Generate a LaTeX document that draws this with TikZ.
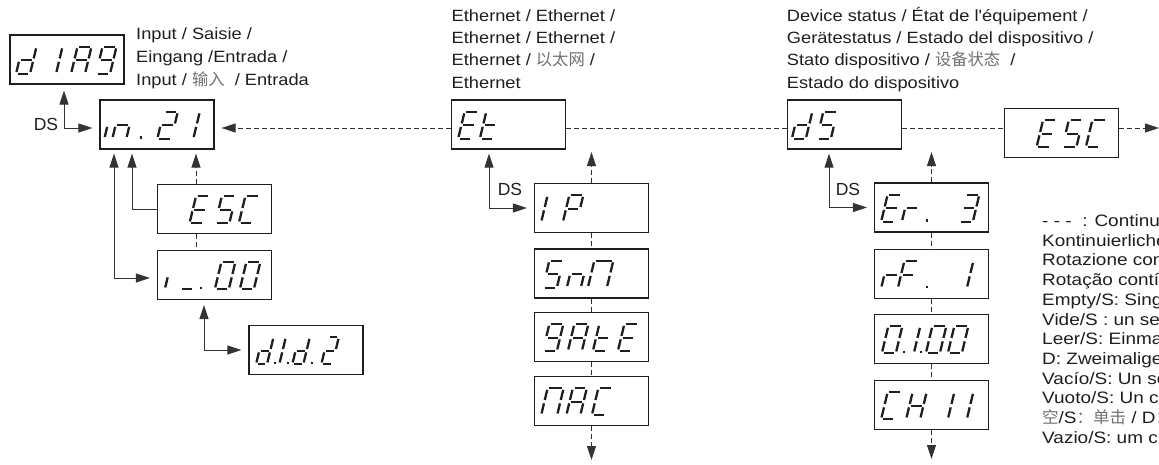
\documentclass[tikz,border=0pt]{standalone}
\usepackage{fontspec}
\setmainfont{Liberation Sans}
\newfontfamily\cjk{Noto Sans CJK SC}
\newfontfamily\tf[FakeStretch=1.12]{Liberation Sans}
\newfontfamily\lf[FakeStretch=1.15]{Liberation Sans}
\usetikzlibrary{arrows.meta,calc}
\definecolor{ink}{HTML}{1E1E1E}
\definecolor{cj}{HTML}{707070}
% seven segment geometry
\def\GH{27}\def\GW{14}\def\GG{1.7}\def\GS{0.24}
\def\sga{(\GG,-\GH) -- (\GW-\GG,-\GH)}
\def\sgb{(\GW,-\GH+\GG) -- (\GW,-\GH/2-\GG)}
\def\sgc{(\GW,-\GH/2+\GG) -- (\GW,-\GG)}
\def\sgd{(\GG,0) -- (\GW-\GG,0)}
\def\sge{(0,-\GH/2+\GG) -- (0,-\GG)}
\def\sgf{(0,-\GH+\GG) -- (0,-\GH/2-\GG)}
\def\sgg{(\GG,-\GH/2) -- (\GW-\GG,-\GH/2)}
\def\sgp{(0,-1.15) -- (2.3,-1.15)}
\def\GLd{b,c,d,e,g}\def\GLone{e,f}\def\GLi{e}\def\GLA{a,b,c,e,f,g}
\def\GLnine{a,b,c,d,f,g}\def\GLn{c,e,g}\def\GLtwo{a,b,g,e,d}
\def\GLE{a,d,e,f,g}\def\GLS{a,f,g,c,d}\def\GLC{a,d,e,f}\def\GLu{d}
\def\GLz{a,b,c,d,e,f}\def\GLt{d,e,f,g}\def\GLP{a,b,e,f,g}
\def\GLN{a,b,c,e,f}\def\GLr{e,g}\def\GLF{a,e,f,g}\def\GLthree{a,b,c,d,g}
\def\GLH{b,c,e,f,g}\def\GLp{p}
\newcommand\gl[3]{\begin{scope}[shift={($(#1.south west)+(#2,-11)$)},xslant=\GS,segs]
 \foreach \q in #3 {\expandafter\draw\csname sg\q\endcsname;}\end{scope}}
\begin{document}
\begin{tikzpicture}[x=1pt,y=-1pt,
 box/.style={draw=ink,line width=1.3pt,minimum width=114pt,minimum height=49pt,inner sep=0pt,fill=white},
 con/.style={draw=black!80,line width=1pt},
 dsh/.style={con,dash pattern=on 5pt off 3pt},
 >={Triangle[length=14pt,width=9pt]},
 ae/.style={->,shorten >=7pt},
 aa/.style={<->,shorten >=7pt,shorten <=6pt},
 segs/.style={line width=2.3pt,draw=ink},
 ttl/.style={font=\tf\fontsize{16.3}{20}\selectfont,anchor=base west,inner sep=0pt,text=ink},
 lgd/.style={font=\lf\fontsize{16.5}{19}\selectfont,anchor=base west,inner sep=0pt,text=ink},
 dsl/.style={font=\fontsize{17.5}{17.5}\selectfont,inner sep=0pt,text=ink}]
\useasboundingbox (0,0) rectangle (1159,464);
\clip (0,0) rectangle (1159,464);
% boxes
\node[box] (dIAG) at (67,59.5) {};
\node[box] (in21) at (157,124.5) {};
\node[box] (escL) at (214.5,209) {};
\node[box] (i00) at (214.5,275) {};
\node[box] (did2) at (306,350) {};
\node[box] (Et) at (508.5,124.5) {};
\node[box] (IP) at (591.5,208) {};
\node[box] (SnN) at (591.5,273.5) {};
\node[box] (gate) at (591.5,337) {};
\node[box] (NAC) at (591.5,401) {};
\node[box] (dS) at (844.5,124.5) {};
\node[box] (Er3) at (931.5,207.5) {};
\node[box] (rF1) at (931.5,274) {};
\node[box] (o100) at (931.5,339) {};
\node[box] (CH11) at (931.5,405) {};
\node[box] (escR) at (1061.5,133) {};
% glyphs
\gl{dIAG}{6.7}{\GLd}\gl{dIAG}{46.7}{\GLone}\gl{dIAG}{61.7}{\GLA}\gl{dIAG}{86.7}{\GLnine}
\gl{in21}{5}{\GLi}\gl{in21}{13}{\GLn}\gl{in21}{40}{\GLp}\gl{in21}{58}{\GLtwo}\gl{in21}{94}{\GLone}
\gl{escL}{32.7}{\GLE}\gl{escL}{58.5}{\GLS}\gl{escL}{82}{\GLC}
\gl{i00}{8}{\GLi}\gl{i00}{23}{\GLu}\gl{i00}{42.7}{\GLp}\gl{i00}{58}{\GLz}\gl{i00}{83}{\GLz}
{\def\GW{11}
\gl{did2}{7.7}{\GLd}\gl{did2}{25}{\GLp}\gl{did2}{31}{\GLone}\gl{did2}{38}{\GLp}\gl{did2}{44}{\GLd}\gl{did2}{62}{\GLp}\gl{did2}{73}{\GLtwo}}
\gl{Et}{7.3}{\GLE}\gl{Et}{29}{\GLt}
\gl{IP}{7.3}{\GLone}\gl{IP}{29}{\GLP}
\gl{SnN}{9}{\GLS}\gl{SnN}{33}{\GLn}{\def\GW{19}\gl{SnN}{54}{\GLN}}
\gl{gate}{9}{\GLnine}\gl{gate}{34}{\GLA}\gl{gate}{59}{\GLt}\gl{gate}{84}{\GLE}
{\def\GW{16}\gl{NAC}{7.3}{\GLN}}\gl{NAC}{32.5}{\GLA}\gl{NAC}{58}{\GLC}
\gl{dS}{5}{\GLd}\gl{dS}{30}{\GLS}
\gl{Er3}{7.3}{\GLE}\gl{Er3}{28}{\GLr}\gl{Er3}{52}{\GLp}\gl{Er3}{85}{\GLthree}
\gl{rF1}{7.3}{\GLr}\gl{rF1}{24}{\GLF}\gl{rF1}{52}{\GLp}\gl{rF1}{93}{\GLone}
\gl{o100}{8}{\GLz}\gl{o100}{29}{\GLp}\gl{o100}{40}{\GLone}\gl{o100}{46}{\GLp}\gl{o100}{52}{\GLz}\gl{o100}{74}{\GLz}
\gl{CH11}{7.3}{\GLC}\gl{CH11}{32.3}{\GLH}\gl{CH11}{74}{\GLone}\gl{CH11}{93}{\GLone}
\gl{escR}{32.7}{\GLE}\gl{escR}{58.5}{\GLS}\gl{escR}{82}{\GLC}
% main dashed line
\coordinate (inR) at (214,128);
\draw[dsh,ae] ([yshift=-3.5pt]Et.west) -- ([yshift=-3.5pt]in21.east);
\draw[dsh] ([yshift=-3.5pt]Et.east) -- ([yshift=-3.5pt]dS.west);
\draw[dsh] ([yshift=-3.5pt]dS.east) -- (escR.west |- inR);
\coordinate (rEnd) at (1159,128);
\draw[dsh,->] (escR.east |- inR) -- (rEnd);
% left group
\coordinate (ds1) at (64,128);
\draw[con,aa] (dIAG.south -| ds1) -- (ds1) -- (in21.west |- ds1);
\node[dsl] (dsA) at (46,124) {DS};
\coordinate (c1) at (114,278);
\draw[con,aa,shorten <=4pt] (in21.south -| c1) -- (c1) -- (i00.west |- c1);
\coordinate (c2) at (132,209);
\draw[con,->,shorten >=4pt] (escL.west) -- (c2) -- (in21.south -| c2);
\coordinate (c3) at (196,209);
\draw[dsh,->,shorten >=4pt] (escL.north -| c3) -- (in21.south -| c3);
\draw[dsh] (escL.south -| c3) -- (i00.north -| c3);
\coordinate (c4) at (204,350);
\draw[con,aa,shorten <=5pt] (i00.south -| c4) -- (c4) -- (did2.west |- c4);
% Et group
\coordinate (c5) at (489,208);
\draw[con,aa,shorten <=4pt] (Et.south -| c5) -- (c5) -- (IP.west |- c5);
\node[dsl] (dsB) at (510,189) {DS};
\coordinate (etU) at (591.5,152);
\coordinate (etD) at (591.5,460);
\draw[dsh,->] (IP.north) -- (etU);
\draw[dsh] (IP.south) -- (SnN.north);
\draw[dsh] (SnN.south) -- (gate.north);
\draw[dsh] (gate.south) -- (NAC.north);
\draw[dsh,->] (NAC.south) -- (etD);
% dS group
\coordinate (c6) at (829,207.5);
\draw[con,aa,shorten <=4pt] (dS.south -| c6) -- (c6) -- (Er3.west |- c6);
\node[dsl] (dsC) at (848,189) {DS};
\coordinate (dsU) at (931.5,152);
\coordinate (dsD) at (931.5,459);
\draw[dsh,->] (Er3.north) -- (dsU);
\draw[dsh] (Er3.south) -- (rF1.north);
\draw[dsh] (rF1.south) -- (o100.north);
\draw[dsh] (o100.south) -- (CH11.north);
\draw[dsh,->] (CH11.south) -- (dsD);
% titles
\node[ttl] (tA1) at (136,39.5) {Input / Saisie /};
\node[ttl] (tA2) at (136,62.3) {Eingang /Entrada /};
\node[ttl] (tA3) at (136,85) {Input / {\cjk\color{cj}输入}\ \ / Entrada};
\node[ttl] (tB1) at (451.5,21.3) {Ethernet / Ethernet /};
\node[ttl] (tB2) at (451.5,43.6) {Ethernet / Ethernet /};
\node[ttl] (tB3) at (451.5,65.9) {Ethernet / {\cjk\color{cj}以太网} /};
\node[ttl] (tB4) at (451.5,88.2) {Ethernet};
\node[ttl] (tC1) at (786.7,21.3) {Device status / État de l'équipement /};
\node[ttl] (tC2) at (786.7,43.6) {Gerätestatus / Estado del dispositivo /};
\node[ttl] (tC3) at (786.7,65.9) {Stato dispositivo / {\cjk\color{cj}设备状态}\ \ /};
\node[ttl] (tC4) at (786.7,88.2) {Estado do dispositivo};
% legend (cut at the right edge, as in the reference)
\node[lgd] (L1) at (1042,226.5) {- - -\ \ : Continuo};
\node[lgd] (L2) at (1042,246.2) {Kontinuierliche};
\node[lgd] (L3) at (1042,265.9) {Rotazione cont};
\node[lgd] (L4) at (1042,285.6) {Rotação contín};
\node[lgd] (L5) at (1042,305.3) {Empty/S: Single};
\node[lgd] (L6) at (1042,325.0) {Vide/S : un seul};
\node[lgd] (L7) at (1042,344.7) {Leer/S: Einmal};
\node[lgd] (L8) at (1042,364.4) {D: Zweimaliges};
\node[lgd] (L9) at (1042,384.1) {Vacío/S: Un solo};
\node[lgd] (L10) at (1042,403.8) {Vuoto/S: Un clic};
\node[lgd] (L11) at (1042,423.5) {{\cjk\color{cj}空}/S{\cjk\color{cj}：单击} / D{\cjk\color{cj}：}};
\node[lgd] (L12) at (1042,443.2) {Vazio/S: um clique};
\end{tikzpicture}
\end{document}
